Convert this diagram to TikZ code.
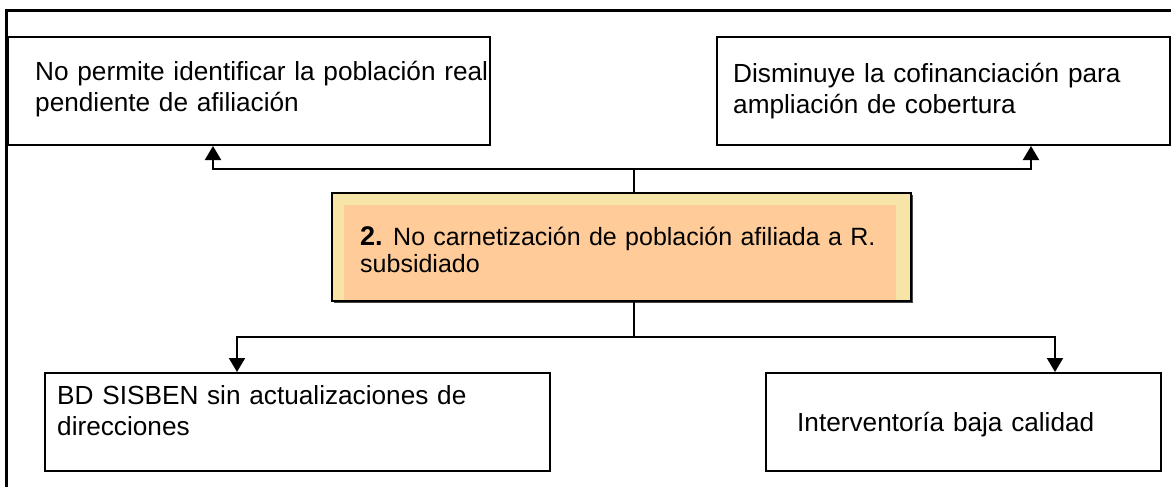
\documentclass[tikz,border=0pt]{standalone}
\usepackage{fontspec}
\setmainfont{Liberation Sans}
\usetikzlibrary{arrows.meta}
\definecolor{paleyellow}{RGB}{247,228,168}
\definecolor{peach}{RGB}{255,204,153}
\definecolor{shadowgray}{RGB}{70,70,70}
\begin{document}
\begin{tikzpicture}[x=1pt,y=-1pt,
  boxnode/.style={draw=black,line width=2pt,rectangle,inner sep=0pt,fill=white},
  conn/.style={line width=2pt,draw=black},
  arr/.style={conn,-{Triangle[width=16pt,length=14pt]}},
  txt/.style={anchor=base west,inner sep=0pt,text width=#1,align=left,
              font=\fontsize{26.2pt}{31pt}\selectfont},
  ctxt/.style={anchor=base west,inner sep=0pt,text width=#1,align=left,
              font=\fontsize{25pt}{27pt}\selectfont},
]
\useasboundingbox (0,0) rectangle (1171,487);
% outer frame (partly visible)
\draw[line width=3pt,line cap=rect] (1172,11) -- (6,11) -- (6,488);

% boxes
\node[boxnode,minimum width=482pt,minimum height=108pt] (b1) at (249,91) {};
\node[boxnode,minimum width=453pt,minimum height=108pt] (b2) at (943.5,91) {};
\node[boxnode,minimum width=505pt,minimum height=98pt] (b3) at (297.5,422) {};
\node[boxnode,minimum width=395pt,minimum height=98pt] (b4) at (963.5,422) {};

% central problem box with shadow
\fill[shadowgray] (333.5,194.5) rectangle (912.5,302.5);
\node[draw=black,line width=1.5pt,fill=paleyellow,rectangle,inner sep=0pt,
      minimum width=579pt,minimum height=108pt] (c) at (621.5,247) {};
\fill[peach] (344,205) rectangle (896,300.2);

% connectors
\coordinate (jt) at (634,169);
\coordinate (jb) at (634,337);
\draw[conn] (jt |- c.north) -- (jt);
\draw[arr] (jt) -| ([xshift=-36pt]b1.south);
\draw[arr] (jt) -| ([xshift=87.5pt]b2.south);
\draw[conn] (jb |- c.south) -- (jb);
\draw[arr] (jb) -| ([xshift=-60.5pt]b3.north);
\draw[arr] (jb) -| ([xshift=91.5pt]b4.north);

% texts
\node[txt=480pt] (t1) at (35,81) {No permite identificar la población real\\pendiente de afiliación};
\node[txt=430pt] (t2) at (733,83) {Disminuye la cofinanciación para\\ampliación de cobertura};
\node[ctxt=530pt] (tc) at (360,245) {{\bfseries\fontsize{27pt}{27pt}\selectfont 2.}\hspace{-2pt} No carnetización de población afiliada a R.\\subsidiado};
\node[txt=470pt] (t3) at (57,404) {BD SISBEN sin actualizaciones de\\direcciones};
\node[txt=340pt] (t4) at (797,431) {Interventoría baja calidad};
\end{tikzpicture}
\end{document}
